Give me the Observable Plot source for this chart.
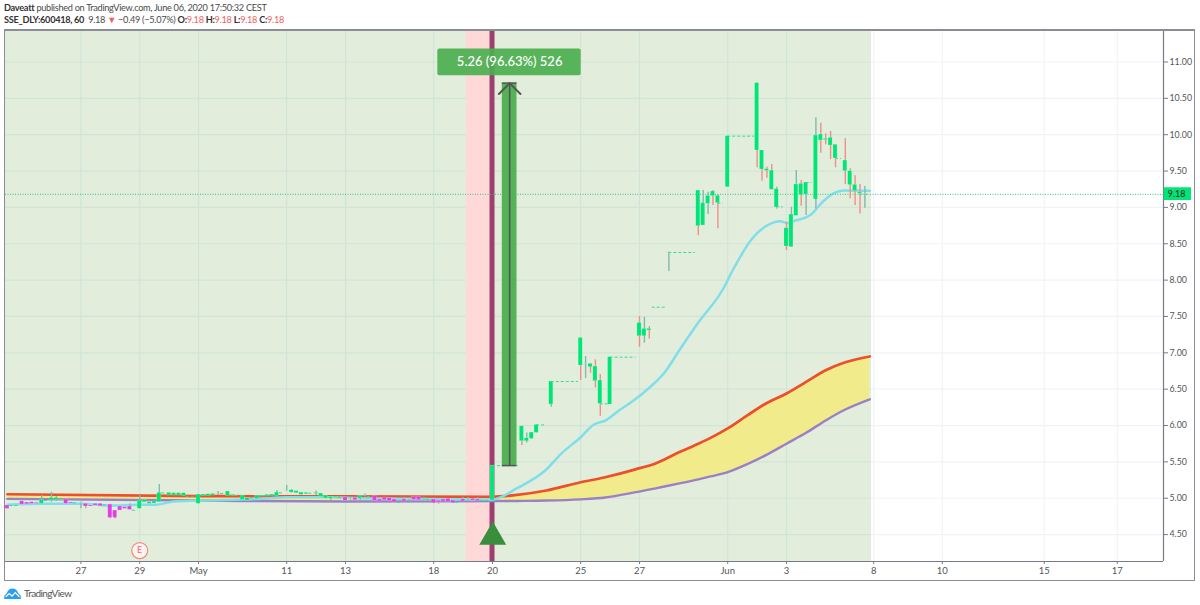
<!DOCTYPE html>
<html><head><meta charset="utf-8">
<script src="https://cdn.jsdelivr.net/npm/d3@7"></script>
<script src="https://cdn.jsdelivr.net/npm/@observablehq/plot@0.6"></script>
<style>
html,body{margin:0;padding:0;background:#fff;width:1200px;height:605px;overflow:hidden;font-family:Lato,"Open Sans",sans-serif}
#head{height:29px;box-sizing:border-box;padding:2px 0 0 4px;font-size:9.2px;letter-spacing:-0.3px;line-height:12px;color:#4a4a4a;white-space:nowrap}
#head b{color:#333;font-weight:700}
#head .r{color:#f0605c}
#chart{position:relative;height:552px}
#chart svg{display:block}
#frame{position:absolute;left:4px;top:0;width:1191px;height:552px;box-sizing:border-box;border:1px solid #8a8d93;border-top-width:2px;pointer-events:none}
#foot{display:flex;align-items:center;height:24px;padding-left:4px;font-size:10px;letter-spacing:-0.6px;color:#555}
#foot svg{margin-right:3px}
</style></head><body>
<div id="head"><div><b>Daveatt</b> published on TradingView.com, June 06, 2020 17:50:32 CEST</div>
<div><b>SSE_DLY:600418, 60</b>&nbsp; 9.18 <span class="r">▼</span> −0.49 (−5.07%) <b>O:</b><span class="r">9.18</span> <b>H:</b><span class="r">9.18</span> <b>L:</b><span class="r">9.18</span> <b>C:</b><span class="r">9.18</span></div></div>
<div id="chart"><div id="frame"></div></div>
<div id="foot"><svg width="17" height="11" viewBox="0 0 18 12"><path d="M0 12V8.5L3 5.5C3.5 2.5 6 .5 9 .5s5.500 2 6 5L18 8.500V12Z" fill="#2a9df4"/><path d="M1.500 9.500 5.500 6 8.500 9 12 5 16.500 9.500" fill="none" stroke="#fff" stroke-width="1.300"/></svg>TradingView</div>
<script>
// x is the bar number counted from the 20 May signal bar; rows are [bar, bodyTop, bodyBottom, high, low]
const tickBars = [-84,-72,-60,-42,-30,-12,0,18,30,48,60,77.8,91.8,112.6,127.5];
const tickNames = ["27","29","May","11","13","18","20","25","27","Jun","3","8","10","15","17"];
const priceTicks = [11,10.5,10,9.5,9,8.5,8,7.5,7,6.5,6,5.5,5,4.5];

const purpleBars = [
 [-99,4.90,4.854],[-96,4.959,4.913],[-95,4.941,4.918],[-94,4.945,4.923],[-93,4.936,4.923],
 [-87,4.982,4.923],[-86,4.941,4.927],[-83,4.923,4.886,4.923,4.854],[-82,4.90,4.886],[-81,4.923,4.90],[-80,4.923,4.89],
 [-78,4.913,4.73,4.92,4.716],[-77,4.831,4.73,4.831,4.716],[-76,4.886,4.831],[-75,4.877,4.854],[-74,4.886,4.84,4.92,4.84],
 [-30,5.01,4.964],[-28,5.005,4.973],[-24,5.032,4.964],[-23,4.982,4.955],[-22,5.01,4.973],[-21,5.0,4.964],[-20,4.982,4.941],
 [-18,4.982,4.955,5.014,4.955],[-16,5.014,4.977],[-15,5.019,4.973],[-12,4.982,4.932,4.982,4.923],[-11,4.964,4.941,4.964,4.918],
 [-10,4.982,4.955],[-9,4.991,4.95],[-8,4.968,4.932],[-6,4.982,4.955,5.014,4.955],[-4,4.991,4.968],[-3,4.982,4.959,5.01,4.959]
];
const earlyBars = [
 [-92,4.977,4.923,5.037,4.923],[-90,5.005,4.968,5.083,4.945],[-89,5.005,4.977,5.023,4.955],[-88,4.977,4.968,4.977,4.959],
 [-84,4.93,4.925,4.945,4.854],[-72,4.968,4.854,5.037,4.854],[-71,4.977,4.945],[-70,4.945,4.923],[-69,4.955,4.927],
 [-68,5.074,4.945,5.188,4.945],[-66,5.074,5.037],[-65,5.069,5.037],[-64,5.069,5.037],[-63,5.069,5.028],[-60,5.051,4.923],
 [-59,5.051,5.028],[-58,5.055,5.028],[-57,5.06,5.037],[-56,5.067,5.063,5.092,5.037],[-54,5.092,5.032],[-53,5.046,5.032],
 [-51,5.037,4.977],[-50,5.0,4.968],[-48,5.037,4.991],[-47,5.037,5.023],[-46,5.046,5.023],[-45,5.051,5.032],
 [-44,5.078,5.028,5.106,5.028],[-42,5.108,5.104,5.175,5.1],[-41,5.11,5.078,5.12,5.069],[-40,5.097,5.069],[-39,5.078,5.046],
 [-38,5.074,5.055],[-36,5.074,5.06,5.101,5.037],[-35,5.065,5.019],[-34,5.032,4.996],[-33,5.019,4.996,5.019,4.968],[-32,5.019,5.005],
 [-29,4.989,4.985,5.014,4.959],[-27,5.032,4.996,5.032,4.968],[-26,5.034,5.03,5.06,5.014],[-17,4.989,4.985,5.01,4.959],
 [-14,4.993,4.989,5.014,4.964],[-5,4.984,4.98,5.01,4.955]
];
const rallyBars = [
 [0,5.449,4.97],[6,5.99,5.784,5.99,5.725],[7,5.825,5.784,5.899,5.761],[8,5.903,5.816],[9,6.009,5.899],
 [12,6.605,6.288,6.605,6.252],[18,7.205,6.825,7.205,6.619],[19,6.841,6.837,6.949,6.646],[20,6.848,6.802,6.848,6.719],
 [21,6.811,6.609,6.903,6.518],[22,6.619,6.298,6.701,6.128],[24,6.94,6.288],[30,7.412,7.228,7.499,7.077],
 [31,7.329,7.228,7.49,7.132],[32,7.329,7.306,7.361,7.19],[36,8.382,8.378,8.382,8.12]
];
const peakBars = [
 [42,9.232,8.742,9.232,8.613],[43,9.058,8.751,9.232,8.751],[44,9.159,9.049,9.209,8.902],[45,9.219,9.155,9.232,9.026],
 [46,9.159,9.058,9.177,8.705],[48,9.98,9.278],[54,10.709,9.783,10.709,9.544],[55,9.783,9.521,9.783,9.361],
 [56,9.526,9.503,9.553,9.402],[57,9.507,9.242,9.59,9.242],[58,9.251,8.999,9.278,8.976],[60,8.714,8.462,8.797,8.407],
 [61,8.902,8.453,9.003,8.453],[62,9.315,8.884,9.507,8.884],[63,9.324,9.168,9.37,9.017],[64,9.342,9.177,9.342,8.889],
 [66,9.989,9.109,10.232,8.98],[67,10.003,9.92,10.159,9.746],[68,9.943,9.925,10.012,9.861],[69,9.957,9.851,10.044,9.659],
 [70,9.861,9.673,9.861,9.544],[72,9.645,9.498,9.943,9.315],[73,9.498,9.306,9.53,9.118],[74,9.31,9.223,9.434,9.026],
 [75,9.205,9.187,9.315,8.91],[76,9.182,9.178,9.287,8.99]
];
const redWicks = [-83,-78,-77,-12,-11,6,18,20,21,22,30,32,42,45,46,54,55,56,57,58,60,63,67,68,69,70,72,73,74,75];

// flat bars: [fromBar, toBar, price]
const flatRuns = [
 [-98.5,-96.5,4.90],[-91.5,-90.5,4.97],[-85.5,-84.5,4.936],[-79.5,-78.5,4.91],[-73.5,-72.5,4.835],[-67.5,-66.5,5.074],
 [-62.5,-60.5,5.028],[-55.5,-54.5,5.065],[-52.5,-51.5,5.037],[-49.5,-48.5,5.005],[-43.5,-42.5,5.074],[-37.5,-36.5,5.069],
 [-31.5,-30.5,5.01],[-25.5,-24.5,5.023],[-19.5,-18.5,4.945],[-13.5,-12.5,4.982],[-7.5,-6.5,4.945],[-2.5,-0.5,4.968],
 [0,5.3,5.449],[9,11,6.009],[12,17.5,6.605],[22,23.8,6.298],[24,29.3,6.94],[32.6,35.3,7.627],[36,41.4,8.38],
 [46,47.1,9.058],[48,53.5,9.98],[58,59.3,9.009],[64,65.2,9.342],[70,71.2,9.673],[75,76.8,9.18]
];

const maBars = [-99,-92,-84,-78,-72,-69,-65,-60,-48,-42,-34,-24,0,5,11,14,18,20.7,23,26,29,32,35,38.4,42,47,49,52.7,54,56.4,58.7,60.2,61.4,65,67,69.7,71.6,77];
const maValues = [4.909,4.923,4.923,4.90,4.909,4.909,4.955,4.968,4.991,5.014,5.014,4.996,4.982,5.138,5.395,5.611,5.839,6.014,6.069,6.216,6.353,6.519,6.719,7.063,7.417,7.871,8.132,8.545,8.645,8.765,8.81,8.783,8.81,8.902,9.05,9.195,9.232,9.228];

const bandBars = [-99,-60,-30,0,5,11,18,23,29,33.5,38.4,42,44.5,48,52,56,60,64,68,72,77];
const bandUpper = [5.055,5.03,5.025,5.02,5.046,5.106,5.22,5.289,5.394,5.486,5.642,5.75,5.83,5.96,6.14,6.31,6.44,6.60,6.76,6.87,6.95];
const bandLower = [4.991,4.968,4.955,4.96,4.963,4.968,4.985,5.01,5.08,5.14,5.207,5.26,5.30,5.36,5.47,5.60,5.75,5.90,6.07,6.22,6.36];

const lastPrice = 9.18;
const xDomain = [-99.39,136.94];
const yDomain = [4.13,11.433];
const shadeEnd = 77.35;
const measureFrom = 5.449, measureTo = 10.709;

const allBars = [...purpleBars,...earlyBars,...rallyBars,...peakBars];
const purpleSet = new Set(purpleBars.map(d=>d[0]));
const redSet = new Set(redWicks);
const band = bandBars.map((b,i)=>({b,u:bandUpper[i],l:bandLower[i]}));
const ma = maBars.map((b,i)=>({b,v:maValues[i]}));
const names = new Map(tickBars.map((b,i)=>[b,tickNames[i]]));
const FONT = 'Lato,"Open Sans",sans-serif';

const plot = Plot.plot({
  width:1200,height:552,marginTop:1,marginBottom:20,marginLeft:5,marginRight:37,
  style:{fontFamily:FONT,fontSize:"10px",background:"transparent",color:"#555"},
  x:{domain:xDomain,label:null},
  y:{domain:yDomain,label:null},
  marks:[
    Plot.ruleX(tickBars,{stroke:"#f1f3f8",strokeWidth:1.2}),
    Plot.ruleY(priceTicks,{stroke:"#f1f3f8",strokeWidth:1.2}),
    Plot.rect([0],{x1:xDomain[0],x2:shadeEnd,y1:yDomain[0],y2:yDomain[1],fill:"#e2eedb"}),
    Plot.ruleX(tickBars.filter(b=>b<shadeEnd),{stroke:"#d0e4d9",strokeWidth:1.2}),
    Plot.ruleY(priceTicks,{x1:xDomain[0],x2:shadeEnd,stroke:"#d0e4d9",strokeWidth:1.2}),
    Plot.rect([0],{x1:-5.37,x2:0,y1:yDomain[0],y2:yDomain[1],fill:"#ffd8d8"}),
    Plot.ruleX([-0.1],{stroke:"#9c4070",strokeWidth:5}),
    Plot.areaY(band,{x:"b",y1:"l",y2:"u",fill:"#f1eb8c",curve:"monotone-x"}),
    Plot.line(band,{x:"b",y:"l",stroke:"#9a80c4",strokeWidth:2.4,curve:"monotone-x"}),
    Plot.line(band,{x:"b",y:"u",stroke:"#ec4f2a",strokeWidth:2.7,curve:"monotone-x"}),
    Plot.line(ma,{x:"b",y:"v",stroke:"#80deea",strokeWidth:2.5,curve:"monotone-x"}),
    Plot.ruleY([lastPrice],{stroke:"#2fc48a",strokeWidth:1,strokeDasharray:"1,1.500"}),
    Plot.ruleY(flatRuns,{x1:d=>d[0],x2:d=>d[1],y:d=>d[2],stroke:"#35dc93",strokeWidth:1,strokeDasharray:"3,2"}),
    Plot.ruleX(allBars,{x:d=>d[0],y1:d=>d[3]??d[1],y2:d=>d[4]??d[2],strokeWidth:1.4,stroke:d=>redSet.has(d[0])?"#ee8f8a":"#82b9ae"}),
    Plot.rect(allBars,{x1:d=>d[0]-0.42,x2:d=>d[0]+0.42,y1:d=>d[2],y2:d=>d[1],fill:d=>purpleSet.has(d[0])?"#e040e8":"#00e676",stroke:"#fff",strokeOpacity:0.35,strokeWidth:0.5}),
    Plot.rect([0],{x1:2,x2:5,y1:measureFrom,y2:measureTo,fill:"#4caf50",fillOpacity:0.95}),
    Plot.ruleX([3.5],{y1:measureFrom,y2:measureTo,stroke:"#555",strokeWidth:1.6}),
    Plot.ruleY([measureFrom,measureTo],{x1:2,x2:5,stroke:"#555",strokeWidth:1.5}),
    Plot.line([[1.3,10.56],[3.5,measureTo],[5.7,10.56]],{x:d=>d[0],y:d=>d[1],stroke:"#555",strokeWidth:2}),
    Plot.rect([0],{x1:-11.16,x2:18.1,y1:10.81,y2:11.18,fill:"#4caf50",fillOpacity:0.92,rx:2}),
    Plot.text(["5.26 (96.63%) 526"],{x:3.5,y:11,fill:"#fff",fontSize:13,fontWeight:500,fontFamily:FONT}),
    Plot.dot([0],{x:0.05,y:4.466,symbol:"triangle",r:10,fill:"#388e3c"}),
    Plot.dot([0],{x:-72,y:4.28,r:8,fill:"#fdf3f0",stroke:"#ef8a85",strokeWidth:1.2}),
    Plot.text(["E"],{x:-72,y:4.28,fill:"#ea6f6a",fontSize:9}),
    Plot.ruleX([xDomain[1]],{stroke:"#787b86",strokeWidth:1.2}),
    Plot.ruleY([yDomain[0]],{stroke:"#787b86",strokeWidth:1.2}),
    Plot.axisY({anchor:"right",ticks:priceTicks,tickFormat:d=>d.toFixed(2),tickSize:4,tickPadding:2,label:null,stroke:"#787b86",fill:"#555",fontSize:8.8}),
    Plot.axisX({anchor:"bottom",ticks:tickBars,tickFormat:d=>names.get(d),tickSize:3,tickPadding:3,label:null,stroke:"#787b86",fill:"#555",fontSize:9.5}),
    Plot.rect([0],{x1:137.1,x2:142.65,y1:9.095,y2:9.27,fill:"#00e676"}),
    Plot.text(["9.18"],{x:139.6,y:lastPrice,fill:"#222",fontSize:8.8})
  ]
});
document.getElementById("chart").prepend(plot);
</script>
</body></html>
